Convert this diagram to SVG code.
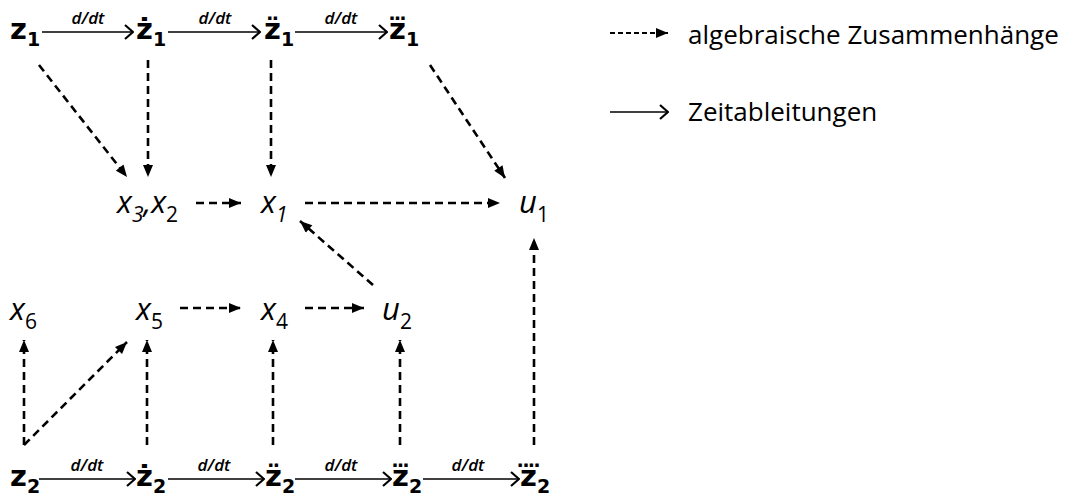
<svg xmlns="http://www.w3.org/2000/svg" width="1086" height="497" viewBox="0 0 1086 497">
<defs>
<marker id="tri" viewBox="0 0 12 10" refX="12" refY="5" markerWidth="13" markerHeight="10" markerUnits="userSpaceOnUse" orient="auto"><path d="M0,0 L12,5 L0,10 z" fill="#000"/></marker>
<marker id="chev" viewBox="0 0 10 16" refX="9" refY="8" markerWidth="10" markerHeight="16" markerUnits="userSpaceOnUse" orient="auto"><path d="M1,1 L9,8 L1,15" fill="none" stroke="#000" stroke-width="2.2"/></marker>
</defs>
<style>
.z{font-family:"DejaVu Sans","Liberation Sans",sans-serif;font-weight:bold;font-size:29px;fill:#000}
.zs{font-family:"DejaVu Sans","Liberation Sans",sans-serif;font-weight:bold;font-size:19px;fill:#000}
.v{font-family:"Open Sans","Liberation Sans",sans-serif;font-style:italic;font-size:31px;fill:#000}
.vs{font-family:"Open Sans","Liberation Sans",sans-serif;font-style:normal;font-size:21px;fill:#000}
.vsi{font-family:"Open Sans","Liberation Sans",sans-serif;font-style:italic;font-size:21px;fill:#000}
.lbl{font-family:"Open Sans","Liberation Sans",sans-serif;font-style:italic;font-weight:600;font-size:17px;fill:#000;text-anchor:middle}
.leg{font-family:"Open Sans","Liberation Sans",sans-serif;font-size:26px;fill:#000}
.d{stroke:#000;stroke-width:2.6;stroke-dasharray:8,5;fill:none;marker-end:url(#tri)}
.s{stroke:#000;stroke-width:1.5;fill:none;marker-end:url(#chev)}
</style>
<rect width="1086" height="497" fill="#fff"/>

<g id="connectors">
<path class="d" d="M39,65 L127,177"/>
<path class="d" d="M148,60 L148,177"/>
<path class="d" d="M271,60 L271,177"/>
<path class="d" d="M430,65 L505,178"/>
<path class="d" d="M196,203 L241,203"/>
<path class="d" d="M305,203 L500,203"/>
<path class="d" d="M373,285 L300,221"/>
<path class="d" d="M180,308 L241,308"/>
<path class="d" d="M305,308 L364,308"/>
<path class="d" d="M24,445 L24,340"/>
<path class="d" d="M24,445 L127,342"/>
<path class="d" d="M147,445 L147,340"/>
<path class="d" d="M273,445 L273,340"/>
<path class="d" d="M400,445 L400,340"/>
<path class="d" d="M534,445 L534,238"/>
<path class="s" d="M42,32 L133,32"/>
<path class="s" d="M168,32 L260,32"/>
<path class="s" d="M295,32 L387,32"/>
<path class="s" d="M39,479 L135,479"/>
<path class="s" d="M168,479 L264,479"/>
<path class="s" d="M295,479 L391,479"/>
<path class="s" d="M423,479 L519,479"/>
<text class="lbl" x="88" y="24">d/dt</text>
<text class="lbl" x="215" y="24">d/dt</text>
<text class="lbl" x="341" y="24">d/dt</text>
<text class="lbl" x="87" y="471">d/dt</text>
<text class="lbl" x="214" y="471">d/dt</text>
<text class="lbl" x="341" y="471">d/dt</text>
<text class="lbl" x="468" y="471">d/dt</text>
</g>

<g id="z1"><text class="z" x="10" y="39">z<tspan class="zs" dy="7">1</tspan></text></g>
<g id="z1d"><text class="z" x="136" y="39">ż<tspan class="zs" dy="7">1</tspan></text></g>
<g id="z1dd"><text class="z" x="264" y="39">z̈<tspan class="zs" dy="7">1</tspan></text></g>
<g id="z1ddd"><text class="z" x="389" y="39">z⃛<tspan class="zs" dy="7">1</tspan></text></g>

<g id="z2"><text class="z" x="10" y="486">z<tspan class="zs" dy="7">2</tspan></text></g>
<g id="z2d"><text class="z" x="136" y="486">ż<tspan class="zs" dy="7">2</tspan></text></g>
<g id="z2dd"><text class="z" x="265" y="486">z̈<tspan class="zs" dy="7">2</tspan></text></g>
<g id="z2ddd"><text class="z" x="392" y="486">z⃛<tspan class="zs" dy="7">2</tspan></text></g>
<g id="z2dddd"><text class="z" x="520" y="486">z⃜<tspan class="zs" dy="7">2</tspan></text></g>

<g id="x3x2"><text class="v" x="117" y="213">x<tspan class="vsi" dy="9">3</tspan><tspan dy="-9">,</tspan>x<tspan class="vs" dy="9">2</tspan></text></g>
<g id="x1"><text class="v" x="261" y="213">x<tspan class="vsi" dy="9">1</tspan></text></g>
<g id="u1"><text class="v" x="519" y="213">u<tspan class="vs" dy="9">1</tspan></text></g>
<g id="x6"><text class="v" x="10" y="320">x<tspan class="vs" dy="9">6</tspan></text></g>
<g id="x5"><text class="v" x="136" y="320">x<tspan class="vs" dy="9">5</tspan></text></g>
<g id="x4"><text class="v" x="261" y="320">x<tspan class="vs" dy="9">4</tspan></text></g>
<g id="u2"><text class="v" x="382" y="320">u<tspan class="vs" dy="9">2</tspan></text></g>

<g id="legend">
<path class="d" d="M610,33 L668,33" style="stroke-width:1.8;stroke-dasharray:5,3"/>
<text class="leg" x="688" y="44">algebraische Zusammenhänge</text>
<path class="s" d="M610,112 L668,112"/>
<text class="leg" x="688" y="121">Zeitableitungen</text>
</g>
</svg>
